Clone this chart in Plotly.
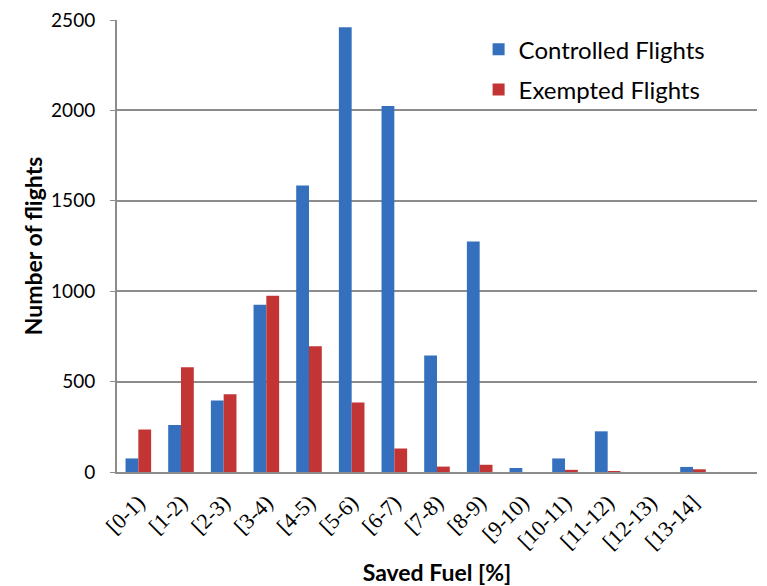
import plotly.graph_objects as go

categories = ["[0-1)", "[1-2)", "[2-3)", "[3-4)", "[4-5)", "[5-6)", "[6-7)",
              "[7-8)", "[8-9)", "[9-10)", "[10-11)", "[11-12)", "[12-13)", "[13-14]"]
controlled = [75, 260, 395, 925, 1585, 2460, 2025, 645, 1275, 22, 75, 225, 0, 28]
exempted = [235, 580, 430, 975, 695, 385, 130, 30, 40, 0, 12, 5, 0, 15]

fig = go.Figure()
fig.add_trace(go.Bar(x=categories, y=controlled, name="Controlled Flights", legendgroup="c",
                     marker=dict(color="#3470BD", line=dict(width=0))))
fig.add_trace(go.Bar(x=categories, y=exempted, name="Exempted Flights", legendgroup="e",
                     marker=dict(color="#C33534", line=dict(width=0))))

fig.update_layout(
    width=759, height=578,
    margin=dict(l=109, r=10, t=12, b=114, autoexpand=False),
    paper_bgcolor="white", plot_bgcolor="white",
    barmode="group", bargap=0.4, bargroupgap=0,
    font=dict(family="Lato, Calibri, sans-serif", color="black"),
    legend=dict(x=0.565, y=0.984, xanchor="left", yanchor="top",
                font=dict(size=24, family="Lato, sans-serif"),
                bgcolor="rgba(0,0,0,0)", tracegroupgap=6, itemwidth=30),
    xaxis=dict(
        type="category", range=[-0.5, 14.5], automargin=False,
        tickangle=-45, tickfont=dict(family="Liberation Serif, Times New Roman, serif", size=22),
        showline=True, linecolor="#8c8c8c", linewidth=2, ticks="",
        ticklabelstandoff=7, ticklabeloverflow="allow",
        title=dict(text="<b>Saved Fuel [%]</b>", font=dict(size=23), standoff=18),
    ),
    yaxis=dict(
        range=[0, 2500], tickvals=[0, 500, 1000, 1500, 2000, 2500], automargin=False,
        tickfont=dict(size=19),
        showgrid=True, gridcolor="#8c8c8c", gridwidth=1.5,
        showline=True, linecolor="#8c8c8c", linewidth=2,
        zeroline=False, ticks="outside", ticklen=5, tickcolor="#8c8c8c",
        ticklabelstandoff=11, ticklabeloverflow="allow",
        title=dict(text="<b>Number of flights</b>", font=dict(size=23), standoff=2),
    ),
)

fig.write_html("out.html")
